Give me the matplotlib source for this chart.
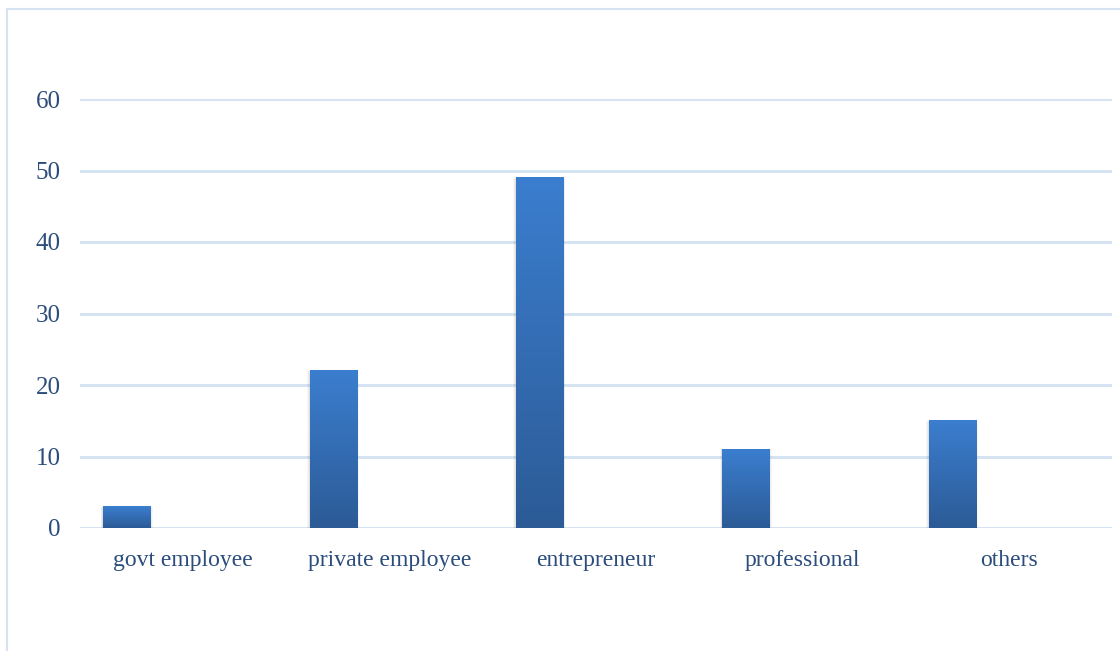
import matplotlib
matplotlib.use("Agg")
import matplotlib.pyplot as plt
import numpy as np
from matplotlib.colors import LinearSegmentedColormap
from matplotlib.patches import Rectangle

categories = ["govt employee", "private employee", "entrepreneur", "professional", "others"]
values = [3, 22, 49, 11, 15]
yticks = [0, 10, 20, 30, 40, 50, 60]

text_color = "#2b4d7c"
grid_color = "#d6e3f3"
bar_cmap = LinearSegmentedColormap.from_list("bar", ["#2c5b96", "#3b7ecf"])

plt.rcParams["font.family"] = ["Liberation Serif", "DejaVu Serif"]

fig = plt.figure(figsize=(11.2, 6.51), dpi=100)
ax = fig.add_axes([80 / 1120, 1 - 528 / 651, 1032 / 1120, 429 / 651])

# outer chart border
fig.patches.append(Rectangle((7 / 1120, -0.2), 1.2, 1.2 - 9 / 651,
                             transform=fig.transFigure, fill=False,
                             edgecolor=grid_color, linewidth=1.5))

x = np.arange(len(categories))
offset = -0.274
width = 0.228

grad = np.linspace(0, 1, 256).reshape(-1, 1)
for xi, v in zip(x, values):
    left = xi + offset - width / 2
    # soft shadow under each bar
    for k, a in enumerate([0.05, 0.04, 0.03]):
        d = 0.004 * (k + 1)
        ax.add_patch(Rectangle((left - d, -0.35 - 0.15 * k), width + 2 * d, v + 0.35 + 0.15 * k,
                               facecolor="black", alpha=a, edgecolor="none", zorder=2))
    ax.imshow(grad, cmap=bar_cmap, origin="lower", aspect="auto",
              extent=(left, left + width, 0, v), zorder=3)

ax.set_xlim(-0.5, len(categories) - 0.5)
ax.set_ylim(0, 60)
ax.set_yticks(yticks)
ax.set_xticks(x)
ax.set_xticklabels(categories)
ax.yaxis.grid(True, color=grid_color, linewidth=2.2)
ax.set_axisbelow(True)
for s in ax.spines.values():
    s.set_visible(False)
ax.tick_params(axis="both", length=0, labelsize=17, labelcolor=text_color)
ax.tick_params(axis="y", labelsize=18, pad=14)
ax.tick_params(axis="x", pad=16)

fig.savefig("out.png", dpi=100)
